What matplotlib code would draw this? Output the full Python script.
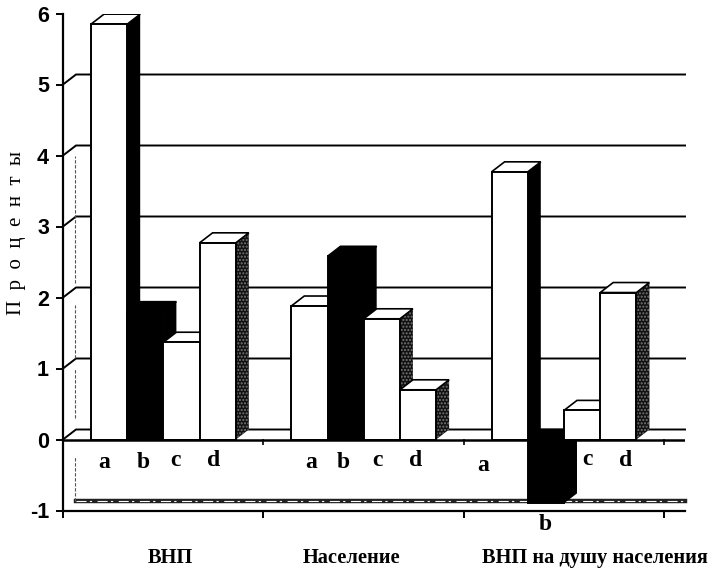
import matplotlib
matplotlib.use('Agg')
import matplotlib.pyplot as plt
from matplotlib.patches import Polygon

# data
groups = ['ВНП', 'Население', 'ВНП на душу населения']
letters = ['a', 'b', 'c', 'd']
vnp = [5.85, 1.8, 1.37, 2.77]
naselenie = [1.88, 2.58, 1.7, 0.7]
vnp_dusha = [3.77, -0.9, 0.41, 2.07]
series = [vnp, naselenie, vnp_dusha]
y_ticks = [-1, 0, 1, 2, 3, 4, 5, 6]

# layout, in axis units
UX = 200.3        # pixels per category
UY = 71.0         # pixels per unit of value
DX = 13 / UX      # 3d depth
DY = 10 / UY
BAR = 36.2 / UX
START = 28 / UX
XMAX = 622 / UX

front = ['white', 'black', 'white', 'white']
side = ['black', 'black', '#111111', '#111111']
side_hatch = [None, None, '.....', '.....']
top = ['white', 'black', 'white', 'white']

fig = plt.figure(figsize=(7.13, 5.69), dpi=100)
ax = fig.add_axes([63 / 713, 1 - 510.5 / 569, 622 / 713, 497 / 569])
ax.set_xlim(0, XMAX)
ax.set_ylim(-1, 6)

# back wall
for v in range(0, 6):
    ax.plot([0, DX, XMAX], [v, v + DY, v + DY], color='black', lw=1.4, zorder=1, clip_on=False)
ax.plot([DX, XMAX], [-1 + DY, -1 + DY], color='#222222', lw=3.2, zorder=1, clip_on=False)
ax.plot([DX, XMAX], [-1 + DY, -1 + DY], color='white', lw=0.8, ls=(0, (9, 3, 2, 5)), zorder=1.1, clip_on=False)
for y0, y1 in [(2.2, 4.0), (1.15, 1.9), (0.3, 1.0), (-1 + DY, -0.25)]:
    ax.plot([DX - 0.005, DX - 0.005], [y0, y1], color='#555555', lw=0.8, ls=(0, (3, 1.5)), zorder=1)

# bars
z = 2
for g, vals in enumerate(series):
    for i, v in enumerate(vals):
        x0 = g + START + i * BAR
        x1 = x0 + BAR
        hi = max(v, 0)
        lo = min(v, 0)
        s = Polygon([(x1, lo), (x1 + DX, lo + DY), (x1 + DX, hi + DY), (x1, hi)],
                    facecolor=side[i], edgecolor='#777777' if side_hatch[i] else 'black',
                    hatch=side_hatch[i], lw=0, zorder=z)
        t = Polygon([(x0, hi), (x0 + DX, hi + DY), (x1 + DX, hi + DY), (x1, hi)],
                    facecolor=top[i], edgecolor='black', lw=1.2, zorder=z)
        f = Polygon([(x0, lo), (x1, lo), (x1, hi), (x0, hi)],
                    facecolor=front[i], edgecolor='black', lw=1.4, zorder=z + 0.5)
        ax.add_patch(s)
        ax.add_patch(t)
        ax.add_patch(f)
        z += 1

# letters under the bars (x in axis units, y in values)
letter_x = [[0.205, 0.40, 0.56, 0.75], [1.24, 1.40, 1.57, 1.76], [2.10, 2.41, 2.62, 2.81]]
letter_y = [[-0.32, -0.32, -0.3, -0.3], [-0.32, -0.32, -0.3, -0.3], [-0.36, -1.2, -0.28, -0.3]]
for g in range(3):
    for i in range(4):
        ax.text(letter_x[g][i], letter_y[g][i], letters[i], family='Liberation Serif', weight='bold',
                fontsize=17, ha='center', va='center', zorder=100, clip_on=False)

# axes
for s in ['top', 'right']:
    ax.spines[s].set_visible(False)
ax.spines['left'].set_linewidth(1.6)
ax.spines['bottom'].set_linewidth(1.6)
ax.axhline(0, color='black', lw=1.8, zorder=60)
ax.set_yticks(y_ticks)
ax.set_yticklabels([str(v) for v in y_ticks])
ax.set_xticks([0, 1, 2, 3])
ax.set_xticklabels([])
ax.tick_params(axis='y', length=5, width=1.4, pad=5)
ax.tick_params(axis='x', length=5, width=1.4)
ax.plot([1, 2, 3], [-0.04, -0.04, -0.04], ls='none', marker='|', ms=5, mew=1.2, color='black', zorder=60)
for lab in ax.get_yticklabels():
    lab.set_family('Liberation Sans')
    lab.set_weight('bold')
    lab.set_fontsize(15.5)

# category labels
label_x = [0.535, 1.44, 2.655]
for x, name in zip(label_x, groups):
    ax.text(x, -1.67, name, family='Liberation Serif', weight='bold', fontsize=14.7,
            ha='center', va='center', clip_on=False)

fig.text(17 / 713, 1 - 233 / 569, 'П  р  о  ц  е  н  т  ы', rotation=90, family='Liberation Serif',
         fontsize=15, ha='center', va='center')

fig.savefig('out.png', dpi=100)
